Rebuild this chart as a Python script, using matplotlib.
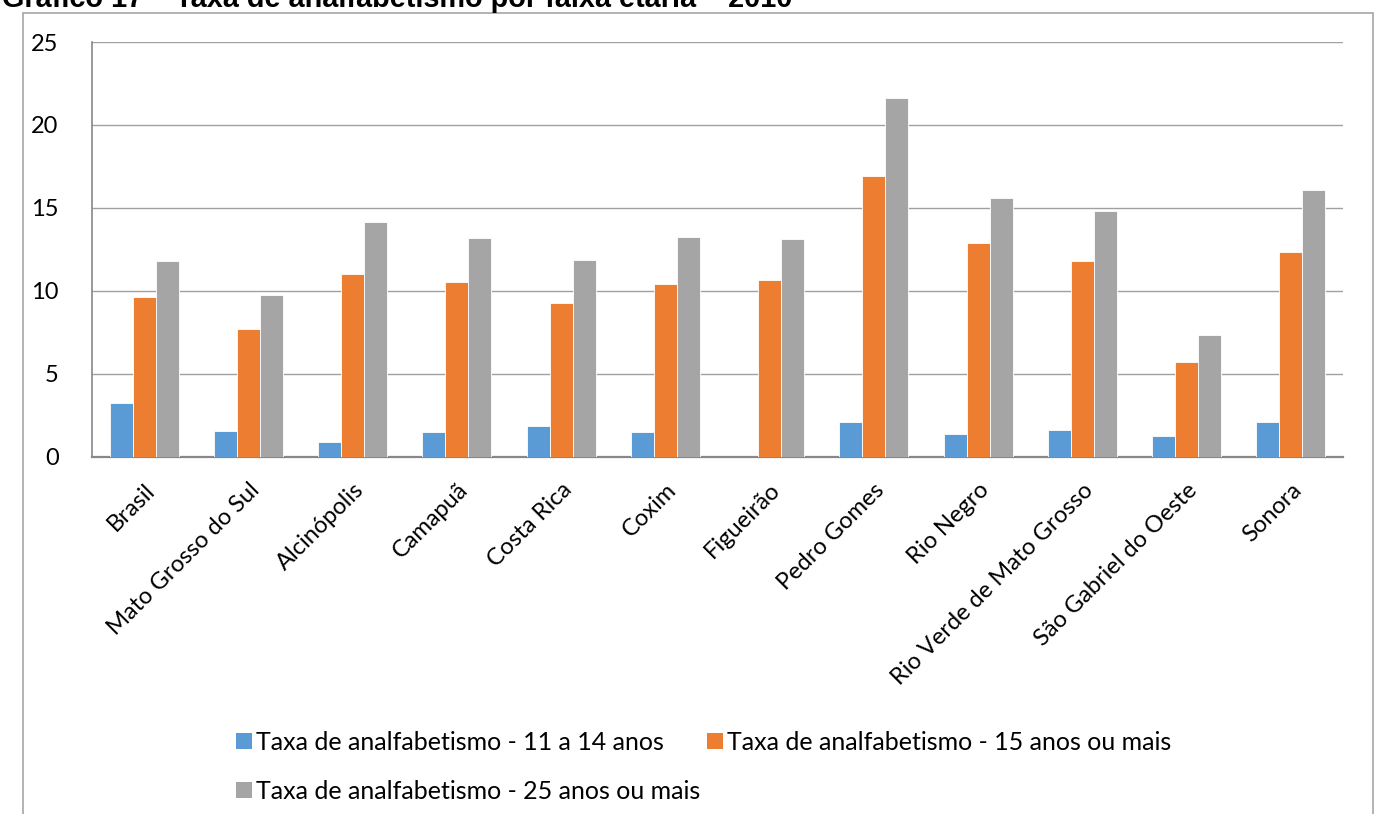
import matplotlib
matplotlib.use("Agg")
import matplotlib.pyplot as plt
import matplotlib.patches as mpatches
import numpy as np

# categories and values
locais = ["Brasil", "Mato Grosso do Sul", "Alcinópolis", "Camapuã", "Costa Rica",
          "Coxim", "Figueirão", "Pedro Gomes", "Rio Negro",
          "Rio Verde de Mato Grosso", "São Gabriel do Oeste", "Sonora"]
taxa_11_14 = [3.23, 1.56, 0.89, 1.49, 1.89, 1.49, 0.0, 2.13, 1.39, 1.63, 1.27, 2.09]
taxa_15_mais = [9.64, 7.70, 11.0, 10.55, 9.25, 10.45, 10.65, 16.9, 12.9, 11.8, 5.72, 12.35]
taxa_25_mais = [11.8, 9.75, 14.15, 13.2, 11.85, 13.25, 13.15, 21.6, 15.6, 14.8, 7.35, 16.1]
series_nomes = ["Taxa de analfabetismo - 11 a 14 anos",
                "Taxa de analfabetismo - 15 anos ou mais",
                "Taxa de analfabetismo - 25 anos ou mais"]
y_ticks = [0, 5, 10, 15, 20, 25]

cores = ["#5B9BD5", "#ED7D31", "#A5A5A5"]
fonte = "Lato"

fig = plt.figure(figsize=(13.82, 8.14), dpi=100)
ax = fig.add_axes([0.0666, 0.4386, 0.9052, 0.5098])

x = np.arange(len(locais))
w = 0.221
barras = []
for i, vals in enumerate([taxa_11_14, taxa_15_mais, taxa_25_mais]):
    b = ax.bar(x + (i - 1) * w, vals, width=w, color=cores[i],
               edgecolor="white", linewidth=0.6, zorder=3, label=series_nomes[i])
    barras.append(b)

ax.set_xlim(-0.5, len(locais) - 0.5)
ax.set_ylim(0, 25)
ax.set_yticks(y_ticks)
ax.set_yticklabels([str(v) for v in y_ticks], fontsize=17, family=fonte)
ax.set_xticks(x)
ax.set_xticklabels(locais, rotation=45, ha="right", va="top",
                   rotation_mode="anchor", fontsize=17, family=fonte)
ax.tick_params(axis="y", length=0, pad=24)
ax.tick_params(axis="x", length=0, pad=16)
ax.yaxis.grid(True, color="#A0A0A0", linewidth=1.0, zorder=0)
ax.set_axisbelow(True)
for s in ["top", "right"]:
    ax.spines[s].set_visible(False)
ax.spines["left"].set_color("#888888")
ax.spines["bottom"].set_color("#888888")
ax.spines["bottom"].set_linewidth(1.6)
ax.spines["left"].set_linewidth(1.2)

# legend: column 1 = blue, grey; column 2 = orange
leg = fig.legend([barras[0], barras[2], barras[1]],
                 [series_nomes[0], series_nomes[2], series_nomes[1]],
                 ncol=2, loc="upper left", bbox_to_anchor=(0.1705, 0.1025),
                 frameon=False, prop={"family": fonte, "size": 18},
                 handlelength=0.64, handleheight=0.64, handletextpad=0.17,
                 columnspacing=0.28, labelspacing=1.05, borderpad=0, borderaxespad=0)
for h in leg.legend_handles:
    h.set_edgecolor("none")

# outer frame of the chart area
frame = mpatches.Rectangle((23 / 1382, -0.05), (1373 - 23) / 1382, 1.05 - 13 / 814,
                           transform=fig.transFigure, fill=False,
                           edgecolor="#A6A6A6", linewidth=1.2)
fig.patches.append(frame)

# title, cut at the top edge as in the source
fig.text(0.0015, 1 - 7 / 814, "Gráfico 17 – Taxa de analfabetismo por faixa etária – 2010",
         fontsize=20.8, fontweight="bold", family="Liberation Sans", va="baseline", ha="left")

fig.savefig("out.png", dpi=100)
